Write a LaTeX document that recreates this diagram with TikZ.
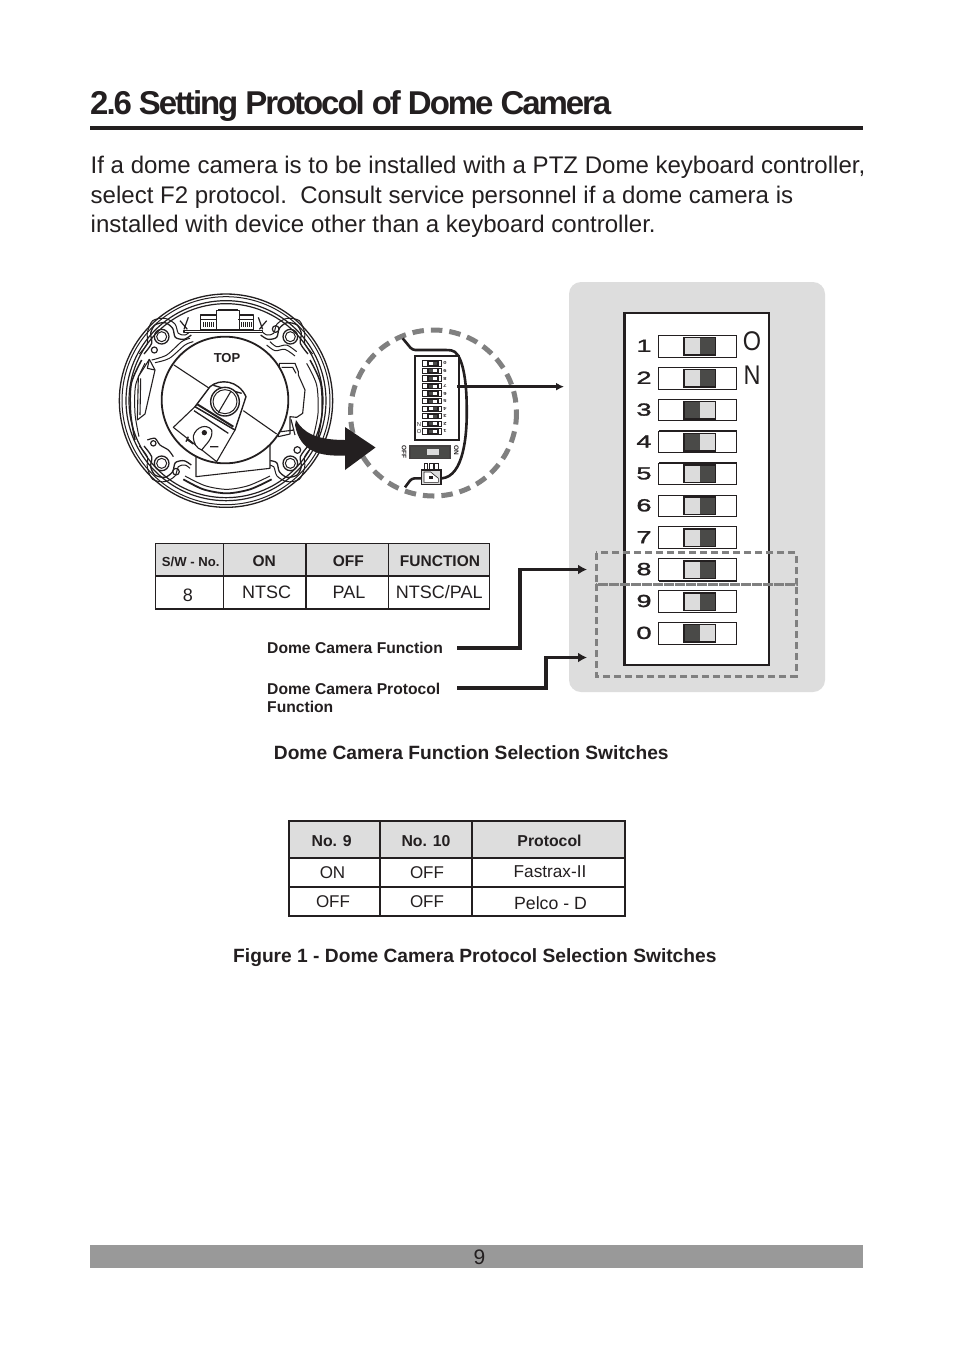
\documentclass[tikz,border=0pt]{standalone}
\usepackage{fontspec}
\setmainfont{Liberation Sans}
\usetikzlibrary{arrows.meta}
\definecolor{ink}{HTML}{231F20}
\definecolor{panel}{HTML}{DDDDDD}
\definecolor{dark}{HTML}{4A4A48}
\definecolor{lite}{HTML}{DCDCDC}
\definecolor{dashc}{HTML}{808080}
\newcommand{\fs}[1]{\fontsize{#1}{#1}\selectfont}
\newcommand{\lugshape}{%
  \draw[ink,line width=1.3pt] plot[smooth] coordinates {(102,222)(125,190)(122,160)(135,135)(165,128)(188,145)(196,172)(222,178)(244,165)};
  \draw[ink,line width=1pt] plot[smooth] coordinates {(88,222)(112,190)(112,158)(128,122)(165,115)(195,132)(205,160)(225,165)(240,155)};
  \draw[ink,line width=1.3pt] (155,170) circle (22);
  \draw[ink,line width=1pt] (155,170) circle (15);
}
\tikzset{
  txt/.style={inner sep=0pt,anchor=base,text=ink},
  txtl/.style={inner sep=0pt,anchor=base west,text=ink},
  hdr/.style={draw=ink,line width=1.1pt,fill=panel},
  cellb/.style={draw=ink,line width=1.1pt,fill=white},
  camline/.style={draw=ink,line width=1.1pt,line join=round},
  dashgrey/.style={draw=dashc,line width=3pt,dash pattern=on 7pt off 4pt},
  conn/.style={draw=ink,line width=3.2pt,line join=miter,-{Latex[length=9pt,width=10pt]}},
}
\begin{document}
\begin{tikzpicture}[x=1pt,y=-1pt]
\useasboundingbox[fill=white] (0,0) rectangle (954,1345);
% heading
\node[txtl] (title) at (90,114) {\fs{33}\addfontfeature{LetterSpace=-6.3}\bfseries 2.6 Setting Protocol of Dome Camera};
\path[fill=ink] (90,125.5) rectangle (863,129.5);
\node[txtl] (b1) at (90.5,173) {\fs{24.03}If a dome camera is to be installed with a PTZ Dome keyboard controller,};
\node[txtl] (b2) at (90.5,203) {\fs{24.03}select F2 protocol.\ \ Consult service personnel if a dome camera is};
\node[txtl] (b3) at (90.5,232) {\fs{24.03}installed with device other than a keyboard controller.};
% right panel
\path[fill=panel,rounded corners=12pt] (569,282) rectangle (825,692);
\path[draw=ink,fill=white,line width=2.8pt] (624.5,313) rectangle (769,665);
\foreach \i/\lab/\dl in {0/1/0,1/2/0,2/3/1,3/4/1,4/5/0,5/6/0,6/7/0,7/8/0,8/9/0,9/0/1}{
  \pgfmathsetmacro{\yy}{346.3+31.9*\i}
  \path[draw=ink,fill=white,line width=.9pt] (658.5,\yy-10.8) rectangle (736.7,\yy+10.8);
  \path[fill=ink] (683,\yy-9.5) rectangle (716,\yy+9.5);
  \ifnum\dl=1
    \path[fill=dark] (684.7,\yy-8) rectangle (699.5,\yy+8);
    \path[fill=lite] (700,\yy-8) rectangle (714.6,\yy+8);
  \else
    \path[fill=lite] (684.7,\yy-8) rectangle (699.5,\yy+8);
    \path[fill=dark] (700,\yy-8) rectangle (714.6,\yy+8);
  \fi
  \node[inner sep=0pt,text=ink] (d\lab) at (644,\yy-.5) {\scalebox{1.55}[1]{\fs{17.5}\addfontfeature{FakeBold=1.5}\lab}};
}
\path[fill=ink] (658.5,429.8) rectangle (736.7,431.8);
\path[fill=ink] (658.5,461.7) rectangle (736.7,463.7);
\path[fill=ink] (658.5,579.5) rectangle (736.7,581.5);
\node[inner sep=0pt,text=ink] (o) at (752,341) {\scalebox{.87}[1]{\fs{27}O}};
\node[inner sep=0pt,text=ink] (n) at (752,375) {\scalebox{.87}[1]{\fs{27}N}};
\path[dashgrey] (596,552.5) rectangle (796,584);
\path[dashgrey] (596,584) rectangle (796,676);
% camera (coordinates of a 3x view)
\begin{scope}[shift={(110pt,-280pt)},x=0.33333pt,y=-0.33333pt]
  \path[camline,fill=white,line width=1.3pt] (348,362) circle (320);
  \path[camline,line width=1pt] (348,362) circle (312);
  \path[camline,line width=1.2pt] (348,362) circle (300);
  \path[camline,line width=1.2pt] (348,362) circle (291);
  % housing walls
  \draw[ink,line width=1.8pt] plot[smooth] coordinates {(220,598)(280,628)(350,640)(420,628)(485,598)};
  \draw[ink,line width=1pt] plot[smooth] coordinates {(225,588)(285,617)(350,628)(415,617)(480,588)};
  \draw[ink,line width=1.5pt] plot[smooth] coordinates {(75,480)(62,400)(64,310)(95,240)};
  \draw[ink,line width=1pt] plot[smooth] coordinates {(87,470)(75,400)(77,315)(105,250)};
  \draw[ink,line width=1.5pt] plot[smooth] coordinates {(622,480)(636,400)(632,310)(600,240)};
  \draw[ink,line width=1pt] plot[smooth] coordinates {(610,470)(624,400)(620,315)(590,250)};
  % four corner lugs
  \lugshape
  \begin{scope}[xscale=-1,xshift=-232pt]\lugshape\end{scope}
  \begin{scope}[yscale=-1,yshift=240pt]\lugshape\end{scope}
  \begin{scope}[xscale=-1,xshift=-232pt,yscale=-1,yshift=240pt]\lugshape\end{scope}
  \path[camline,line width=1.2pt] (133,210) circle (9) (497,147) circle (10) (198,575) circle (10) (562,510) circle (10) (130,490) circle (8);
  \draw[ink,line width=1.2pt] plot[smooth] coordinates {(112,480)(135,475)(150,495)(175,510)(190,530)};
  \draw[ink,line width=1pt] plot[smooth] coordinates {(125,240)(170,225)(215,185)(240,175)};
  \draw[ink,line width=1pt] plot[smooth] coordinates {(135,248)(178,235)(225,195)(250,185)};
  \draw[ink,line width=1pt] plot[smooth] coordinates {(480,185)(500,200)(530,195)(560,215)};
  \draw[ink,line width=1pt] plot[smooth] coordinates {(470,195)(495,212)(525,208)(555,228)};
  % top connector
  \path[camline,fill=white,line width=1.4pt] (222,151) rectangle (458,158);
  \path[camline,fill=white] (272,105) rectangle (320,150);
  \path[camline,fill=white] (385,105) rectangle (430,150);
  \path[camline,fill=white,line width=1.3pt] (320,92) rectangle (388,150);
  \path[draw=ink,line width=5pt,dash pattern=on 1pt off .9pt] (280,134) -- (312,134) (393,134) -- (423,134);
  \path[camline,line width=1.6pt] (272,118) -- (320,118) (385,118) -- (430,118) (325,88) -- (385,88);
  \draw[camline,line width=1.2pt] (235,112) -- (222,148) (210,122) -- (232,148) (445,112) -- (458,148) (470,122) -- (448,148);
  % left bracket
  \path[camline,fill=white] (118,238) -- (85,290) -- (82,420) -- (105,402) -- (135,270) -- cycle;
  \path[camline] (118,238) -- (112,265) -- (135,270) (92,295) -- (90,405);
  % right bracket
  \path[camline,fill=white] (508,250) -- (555,250) -- (565,275) -- (565,285) -- (585,330) -- (578,400) -- (560,412) -- (540,410) -- (540,462) -- (505,470) -- cycle;
  \path[camline] (515,262) -- (548,262) -- (558,280) (543,418) -- (555,465) (513,455) -- (553,450);
  % cable-side rectangle below disc
  \path[camline,fill=white] (258,530) -- (258,590) -- (480,565) -- (480,490) -- cycle;
  % inner disc
  \path[camline,fill=white,line width=1.8pt] (345,360) circle (190);
  \path[camline] (192,255) -- (298,325) (400,392) -- (500,462);
  % head
  \path[camline,fill=white] (190,442) -- (255,380) -- (375,450) -- (320,545) -- cycle;
  \path[camline,fill=white,line width=1.4pt] (255,380) -- (300,320) .. controls (330,295) and (385,300) .. (408,350) -- (375,450) -- cycle;
  \path[camline,line width=2pt] (262,373) -- (370,440);
  \path[camline,line width=1.3pt] (252,392) -- (355,460) (310,316) -- (395,340);
  \path[camline,fill=white,line width=1.4pt] (345,365) circle (43);
  \path[camline,line width=1pt] (345,365) circle (36);
  \path[camline] (325,398) -- (362,335);
  \path[camline,fill=white] (250,468) .. controls (258,440) and (290,430) .. (305,450) .. controls (310,475) and (290,490) .. (275,510) .. controls (260,505) and (250,490) .. (250,468) -- cycle;
  \path[fill=ink] (283,458) circle (8);
  \path[camline,line width=1.3pt] (230,478) -- (250,492) (300,500) -- (325,500) (235,470) -- (228,485);
  \node[inner sep=0pt,text=ink] (top) at (351,233) {\fs{13}\bfseries TOP};
\end{scope}
% dashed circle and inset (coordinates of a 3x view)
\path[draw=dashc,line width=5pt,dash pattern=on 11.5pt off 7pt] (433.5,413) circle (83);
\begin{scope}[shift={(340pt,-320pt)},x=0.33333pt,y=-0.33333pt]
  \coordinate (wa) at (188,55);
  \coordinate (wb) at (305,475);
  \coordinate (wc) at (245,475);
  \coordinate (wd) at (195,502);
  \draw[ink,line width=2.6pt,rounded corners=3pt] (wa) -- (217,90) -- (325,90) .. controls (365,95) and (378,170) .. (380,250) .. controls (382,350) and (370,470) .. (wb);
  \draw[ink,line width=2.6pt,rounded corners=3pt] (wc) -- (215,475) -- (wd);
  \path[draw=ink,fill=white,line width=1.8pt] (224,107) rectangle (358,360);
  \foreach \i/\lab/\dr in {0/0/1,1/9/0,2/8/0,3/7/0,4/6/0,5/5/0,6/4/1,7/3/1,8/2/0,9/1/0}{
    \pgfmathsetmacro{\yy}{130+22.7*\i}
    \path[draw=ink,fill=white,line width=1pt] (248,\yy-8) rectangle (304,\yy+8);
    \path[fill=ink] (262,\yy-8) rectangle (296,\yy+8);
    \path[fill=white] (266,\yy-4.5) rectangle (292,\yy+4.5);
    \ifnum\dr=1
      \path[fill=dark] (279,\yy-4.5) rectangle (292,\yy+4.5);
    \else
      \path[fill=dark] (266,\yy-4.5) rectangle (279,\yy+4.5);
    \fi
    \node[inner sep=0pt,text=ink,rotate=180] (s\lab) at (315,\yy) {\scalebox{1.4}[1]{\fs{4.2}\bfseries\lab}};
  }
  \node[inner sep=0pt,text=ink,rotate=180] (sn) at (237,312) {\fs{5.8}N};
  \node[inner sep=0pt,text=ink,rotate=180] (so) at (237,335) {\fs{5.8}O};
  \path[fill=ink!85] (207,375) rectangle (333,418);
  \path[fill=dark] (212,380) rectangle (328,413);
  \path[fill=lite] (248,388) rectangle (296,406);
  \path[fill=dark] (250,386) rectangle (262,408);
  \node[inner sep=0pt,text=ink,rotate=-90] (soff) at (192,395) {\fs{6.5}\bfseries OFF};
  \node[inner sep=0pt,text=ink,rotate=-90] (son) at (349,392) {\fs{6.5}\bfseries ON};
  \path[draw=ink,fill=white,line width=.8pt] (253,430) rectangle (263,447) (268,430) rectangle (279,447) (284,430) rectangle (295,447);
  \path[draw=ink,fill=lite,line width=1.5pt] (245,450) rectangle (303,493);
  \path[draw=ink,fill=white,line width=.6pt] (252,456) -- (272,456) -- (295,475) -- (295,487) -- (252,487) -- cycle;
  \path[fill=ink] (268,468) rectangle (278,478);
  \coordinate (da) at (352,200);
  \coordinate (db) at (672,200);
\end{scope}
\draw[ink,line width=2.4pt,-{Latex[length=8pt,width=8pt]}] (da) -- (db);
% bold arrow
\path[fill=ink] (296,420) .. controls (303,432) and (315,440) .. (345,440) -- (345,427) -- (375.5,447.5) -- (345,470) -- (345,455.5) .. controls (320,456.5) and (300,452) .. (295,425) -- cycle;
% function table
\path[hdr] (155.5,543.5) rectangle (223.5,576);
\path[hdr] (223.5,543.5) rectangle (306,576);
\path[hdr] (306,543.5) rectangle (388.5,576);
\path[hdr] (388.5,543.5) rectangle (489.5,576);
\path[cellb] (155.5,576) rectangle (223.5,609);
\path[cellb] (223.5,576) rectangle (306,609);
\path[cellb] (306,576) rectangle (388.5,609);
\path[cellb] (388.5,576) rectangle (489.5,609);
\path[fill=ink] (305.2,543.5) rectangle (306.8,609);
\node[txt] (t1a) at (190.7,566) {\fs{13.1}\bfseries S/W - No.};
\node[txt] (t1b) at (264.3,566) {\fs{15.5}\bfseries ON};
\node[txt] (t1c) at (348.3,566) {\fs{15.5}\bfseries OFF};
\node[txt] (t1d) at (440,566) {\fs{15.5}\bfseries FUNCTION};
\node[txt] (t1e) at (188,601) {\fs{18}8};
\node[txt] (t1f) at (266.7,598.5) {\fs{18}NTSC};
\node[txt] (t1g) at (349,598.5) {\fs{18}PAL};
\node[txt] (t1h) at (439.3,598.5) {\fs{18}NTSC/PAL};
% labels and connectors
\node[txtl] (lf) at (267,653.5) {\fs{15.65}\bfseries Dome Camera Function};
\node[txtl] (lp) at (267,694) {\fs{15.65}\bfseries Dome Camera Protocol};
\node[txtl] (lp2) at (267,712.5) {\fs{15.65}\bfseries Function};
\coordinate (fa) at (457,648);
\coordinate (fb) at (587,569.5);
\coordinate (pa) at (457,688);
\coordinate (pb) at (587,657.5);
\draw[conn] (fa) -- (520,648) -- (520,569.5) -- (fb);
\draw[conn] (pa) -- (546,688) -- (546,657.5) -- (pb);
\node[txtl] (c1) at (273.7,759) {\fs{19.2}\bfseries Dome Camera Function Selection Switches};
% protocol table
\path[hdr] (289,821) rectangle (380,858);
\path[hdr] (380,821) rectangle (472,858);
\path[hdr] (472,821) rectangle (625,858);
\foreach \ya/\yb in {858/887,887/916}{
  \path[cellb] (289,\ya) rectangle (380,\yb);
  \path[cellb] (380,\ya) rectangle (472,\yb);
  \path[cellb] (472,\ya) rectangle (625,\yb);
}
\node[txt] (t2a) at (331.7,846) {\fs{15.8}\bfseries No. 9};
\node[txt] (t2b) at (426,846) {\fs{15.8}\bfseries No. 10};
\node[txt] (t2c) at (549.5,846) {\fs{15.8}\bfseries Protocol};
\node[txt] (t2d) at (332.5,878.3) {\fs{17}ON};
\node[txt] (t2e) at (427,878.3) {\fs{17}OFF};
\node[txt] (t2f) at (550,877.5) {\fs{17.2}Fastrax-II};
\node[txt] (t2g) at (333,907.5) {\fs{17}OFF};
\node[txt] (t2h) at (427,907.5) {\fs{17}OFF};
\node[txt] (t2i) at (550.5,909) {\fs{17.7}Pelco - D};
\node[txtl] (c2) at (233,962) {\fs{19.2}\bfseries Figure 1 - Dome Camera Protocol Selection Switches};
% footer
\path[fill=black!40] (90,1245) rectangle (863,1268);
\node[txt] (pg) at (479.5,1264) {\fs{21}9};
\end{tikzpicture}
\end{document}
